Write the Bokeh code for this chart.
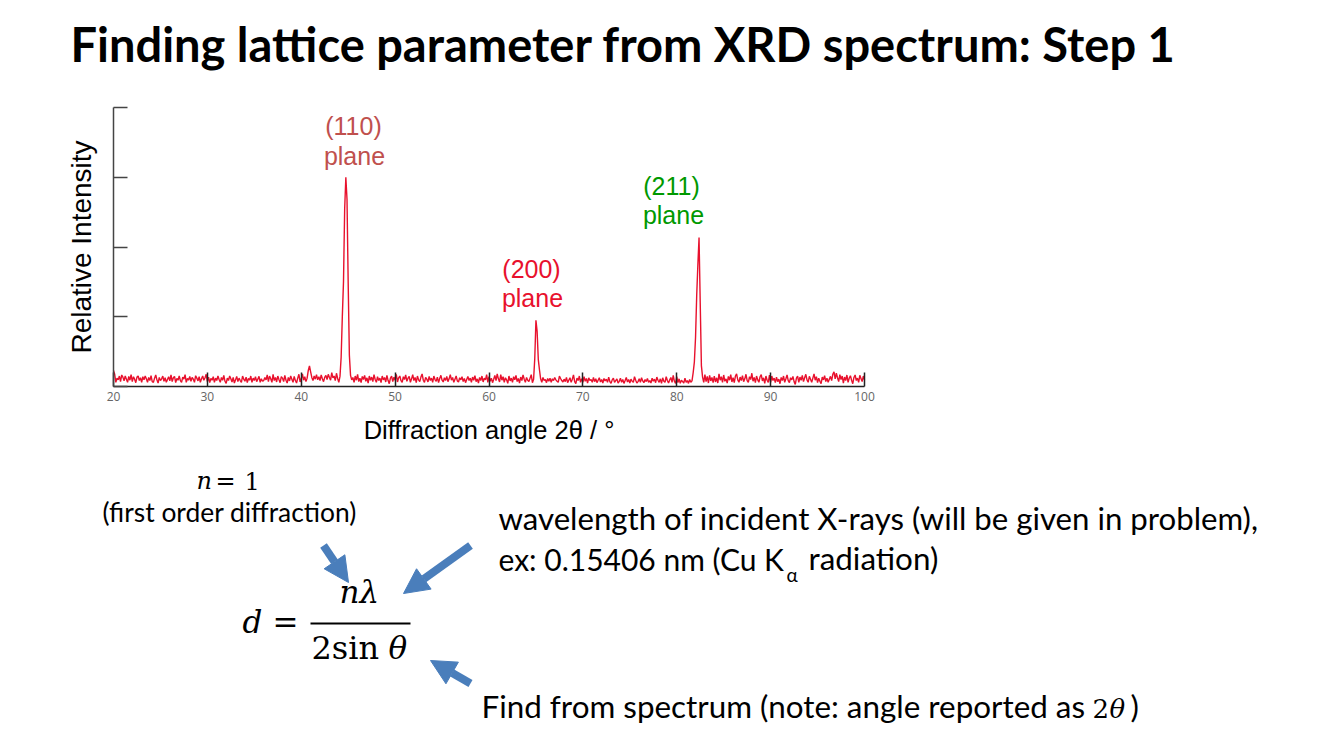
from bokeh.plotting import figure
from bokeh.models import Label, Arrow, NormalHead, FixedTicker
from bokeh.embed import file_html
from bokeh.resources import INLINE

# Intensity, one value every 0.125 degrees, per decade of 2-theta
I_20_30 = [230,175,60,120,95,150,70,165,135,80,150,105,60,145,90,170,70,140,105,55,135,150,85,125,60,140,95,150,110,60,130,85,155,70,60,120,165,95,50,130,85,110,150,75,125,60,100,140,80,165,70,125,145,55,115,90,150,85,60,135,105,170,60,115,90,145,75,130,105,60,155,120,80,140,60,110,150,90,125,175]
I_30_40 = [70,135,55,115,90,140,60,120,85,150,100,60,130,90,160,75,45,120,85,150,110,65,130,50,95,145,70,120,85,60,150,105,75,135,55,115,90,150,60,120,85,140,70,105,145,60,110,75,85,130,95,165,70,150,110,60,175,85,130,65,150,100,55,140,120,70,160,90,50,130,80,150,105,60,145,85,50,120,175,65]
I_40_50 = [110,180,90,140,70,120,230,295,210,130,85,150,105,170,95,140,85,165,110,70,130,160,100,175,130,90,200,125,150,85,190,115,60,145,420,1000,1500,2540,3000,2680,1480,450,160,95,130,60,150,90,175,70,120,55,145,100,160,75,125,50,150,90,135,70,170,100,60,140,85,120,55,150,95,130,65,160,85,40,120,150,70,135]
I_50_60 = [90,175,65,125,150,85,60,140,100,165,75,120,145,60,110,170,85,130,55,150,95,70,135,180,90,60,130,105,65,145,85,120,60,150,100,75,135,55,115,160,90,65,125,85,145,70,110,170,90,130,60,105,150,80,65,125,95,140,70,115,55,100,145,85,120,60,135,90,155,70,110,50,130,85,150,65,120,95,170,60]
I_60_70 = [140,75,120,55,105,160,85,180,110,65,170,90,140,60,125,95,45,150,80,120,60,140,95,160,70,115,50,135,85,165,105,60,130,90,70,120,170,55,105,400,950,790,390,240,110,60,130,85,100,55,115,75,120,60,110,85,130,95,75,60,150,115,85,65,105,70,130,55,90,125,60,105,165,70,40,120,85,150,60,110]
I_70_80 = [60,140,75,115,50,125,85,100,60,130,70,110,55,90,125,65,100,50,115,80,105,60,135,70,45,95,120,60,85,110,50,75,120,60,100,45,85,130,65,100,50,105,75,60,140,90,50,70,110,60,125,80,55,100,70,115,60,85,50,120,75,105,55,135,90,60,110,45,125,75,60,140,85,50,95,130,60,160,75,45]
I_80_90 = [140,55,110,45,90,70,50,120,60,85,45,100,60,80,200,350,700,1300,1750,2137,1200,300,135,60,170,70,145,50,160,80,130,55,150,65,125,50,180,90,140,60,165,75,110,50,145,90,170,65,125,55,150,180,95,60,135,85,155,70,110,175,85,60,140,100,190,75,130,55,150,95,60,140,170,80,125,45,150,90,60,165]
I_90_100 = [60,150,85,120,55,135,70,105,40,130,85,150,60,110,165,85,55,125,95,145,70,30,120,150,60,135,90,160,70,125,175,95,60,145,105,60,120,180,90,140,55,120,75,40,135,95,155,70,120,60,105,145,85,175,210,110,190,125,70,170,100,150,50,135,85,165,60,120,155,90,40,130,165,85,120,60,160,115,70,150,95]

tick_x = [20, 30, 40, 50, 60, 70, 80, 90, 100]
tick_y = [0, 1000, 2000, 3000, 4000]

intensity = I_20_30 + I_30_40 + I_40_50 + I_50_60 + I_60_70 + I_70_80 + I_80_90 + I_90_100
angle = [20 + k / 8 for k in range(len(intensity))]

W, H = 1330, 730
L, R, T, B = 113, 864, 107, 386   # pixels of the spectrum's axes in the picture
kx = 80 / (R - L)
ky = 4000 / (B - T)
p = figure(width=W, height=H, output_backend="svg", toolbar_location=None,
           x_range=(20 - L * kx, 20 + (W - L) * kx),
           y_range=((B - H) * ky, B * ky),
           min_border=0,
           x_axis_label="Diffraction angle 2θ / °", y_axis_label="Relative Intensity")
p.outline_line_color = None
p.grid.visible = False
p.background_fill_color = "white"
p.border_fill_color = "white"

p.line(angle, intensity, line_color="#E8112D", line_width=1.4)

xax, yax = p.xaxis[0], p.yaxis[0]
xax.fixed_location = 0
yax.fixed_location = 20
xax.bounds = (20, 100)
yax.bounds = (0, 4000)
xax.ticker = FixedTicker(ticks=tick_x)
yax.ticker = FixedTicker(ticks=tick_y)
yax.major_label_text_font_size = "0px"
yax.major_label_text_color = None
for ax, col in ((xax, "#222222"), (yax, "#444444")):
    ax.axis_line_color = col
    ax.axis_line_width = 1.5
    ax.major_tick_line_color = col
    ax.major_tick_line_width = 1.5
    ax.major_tick_in = 14
    ax.major_tick_out = 0
    ax.minor_tick_line_color = None
    ax.axis_label_text_font = "Liberation Sans"
    ax.axis_label_text_font_style = "normal"
    ax.axis_label_text_color = "#000000"
xax.major_label_text_font = "Open Sans"
xax.major_label_text_font_size = "12px"
xax.major_label_text_color = "#666666"
xax.major_label_standoff = 5
xax.axis_label_text_font_size = "25.5px"
xax.axis_label_standoff = 12
yax.axis_label_text_font_size = "28px"
yax.axis_label_standoff = 17


def text(s, x, y, size, font="Lato", color="#000000", style="normal", align="left"):
    p.add_layout(Label(x=x, y=H-y+0.42*size, x_units="screen", y_units="screen", text=s,
                       text_font=font, text_font_size=f"{size}px", text_color=color,
                       text_font_style=style, text_align=align, text_baseline="alphabetic"))


def arrow(x0, y0, x1, y1):
    p.add_layout(Arrow(x_start=x0, y_start=H-y0, x_end=x1, y_end=H-y1,
                       start_units="screen", end_units="screen",
                       line_color="#4A7EBB", line_width=8,
                       end=NormalHead(size=25, fill_color="#4A7EBB", line_color="#4A7EBB", line_width=1)))


text("Finding lattice parameter from XRD spectrum: Step 1", 70, 63, 47, style="bold")

SANS = "Liberation Sans"
text("(110)", 353, 136, 25, SANS, "#C0504D", align="center")
text("plane", 354, 166, 25, SANS, "#C0504D", align="center")
text("(200)", 531, 279, 25, SANS, "#E8112D", align="center")
text("plane", 532, 308, 25, SANS, "#E8112D", align="center")
text("(211)", 671, 196, 25, SANS, "#009900", align="center")
text("plane", 673, 225, 25, SANS, "#009900", align="center")

MATH = "DejaVu Serif"
text("n", 196, 491, 24, MATH, style="italic")
text("=", 215, 491, 24, MATH)
text("1", 244, 491, 24, MATH)
text("(first order diffraction)", 102, 523, 26.4)
text("wavelength of incident X-rays (will be given in problem),", 498, 531, 31.2)
text("ex: 0.15406 nm (Cu K", 498, 571, 30)
text("α", 786, 582, 19)
text("radiation)", 808, 571, 31.4)
text("Find from spectrum (note: angle reported as", 481, 719, 31.4)
text("2", 1092, 719, 26, MATH)
text("θ", 1109, 719, 26, MATH, style="italic")
text(")", 1130, 719, 31.4)

text("d", 242, 635, 31, MATH, style="italic")
text("=", 272, 635, 31, MATH)
text("nλ", 339, 605, 31, MATH, style="italic")
text("2sin", 311, 661, 32, MATH)
text("θ", 388, 661, 31, MATH, style="italic")
p.add_layout(Arrow(x_start=310, y_start=H-623, x_end=410, y_end=H-623,
                   start_units="screen", end_units="screen", end=None,
                   line_color="#000000", line_width=2))

arrow(323, 545, 348, 582)
arrow(470, 545, 403, 593)
arrow(470, 683, 430, 660)

open("out.html", "w").write(file_html(p, INLINE))
